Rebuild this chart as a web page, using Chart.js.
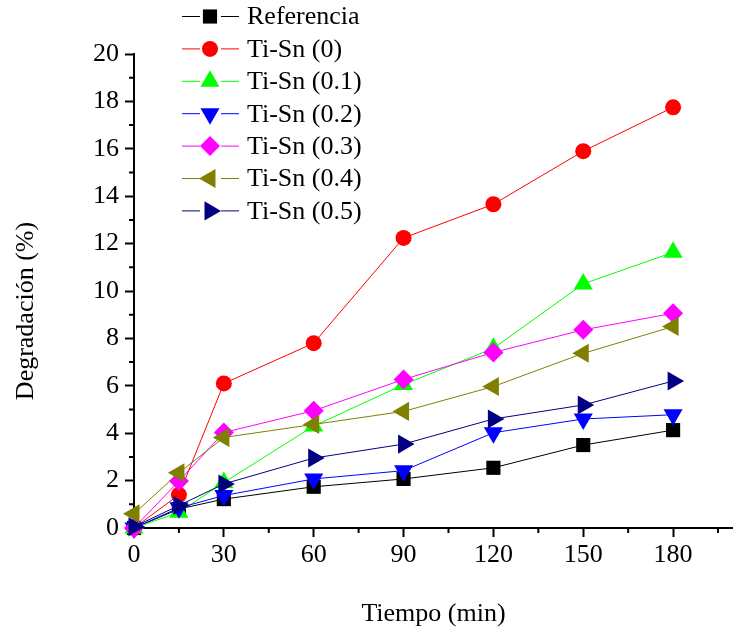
<!DOCTYPE html>
<html>
<head>
<meta charset="utf-8">
<script src="https://cdn.jsdelivr.net/npm/chart.js@4/dist/chart.umd.min.js"></script>
<style>
    body { margin: 0; background: #fff; font-family: "Liberation Serif", "Times New Roman", serif; }
    canvas { display: block; }
    .probe { position: absolute; left: -1000px; top: 0; font: 26px "Liberation Serif"; }
</style>
</head>
<body>
<canvas id="line-chart" width="733" height="638"></canvas>
<span class="probe">Degradación 0123456789</span>
<script>
// tiempo (min) y % de degradación
const tiempo = [0, 15, 30, 60, 90, 120, 150, 180];
const referencia = [0, 0.8, 1.22, 1.74, 2.07, 2.54, 3.5, 4.13];
const tiSn0 = [0, 1.4, 6.1, 7.8, 12.24, 13.66, 15.9, 17.75];
const tiSn01 = [0, 0.66, 1.92, 4.3, 6.05, 7.58, 10.3, 11.63];
const tiSn02 = [0, 0.85, 1.37, 2.07, 2.42, 4.02, 4.6, 4.78];
const tiSn03 = [0, 1.98, 4.03, 4.95, 6.27, 7.41, 8.36, 9.06];
const tiSn04 = [0.6, 2.33, 3.82, 4.37, 4.92, 5.97, 7.37, 8.5];
const tiSn05 = [0.05, 0.95, 1.86, 2.95, 3.54, 4.6, 5.19, 6.2];

const seriesNames = ["Referencia", "Ti-Sn (0)", "Ti-Sn (0.1)", "Ti-Sn (0.2)", "Ti-Sn (0.3)", "Ti-Sn (0.4)", "Ti-Sn (0.5)"];
const seriesValues = [referencia, tiSn0, tiSn01, tiSn02, tiSn03, tiSn04, tiSn05];

// ticks: cada 15 min (etiqueta cada 30) y cada 1 % (etiqueta cada 2)
const xTickValues = [0, 15, 30, 45, 60, 75, 90, 105, 120, 135, 150, 165, 180, 195];
const yTickValues = [0, 1, 2, 3, 4, 5, 6, 7, 8, 9, 10, 11, 12, 13, 14, 15, 16, 17, 18, 19, 20];

const colors = ["#000000", "#ff0000", "#00ff00", "#0000ff", "#ff00ff", "#808000", "#000080"];
const markers = [
    { style: "rect", radius: 10, rotation: 0 },
    { style: "circle", radius: 8, rotation: 0 },
    { style: "triangle", radius: 11, rotation: 0 },
    { style: "triangle", radius: 11, rotation: 180 },
    { style: "rectRot", radius: 10, rotation: 0 },
    { style: "triangle", radius: 11, rotation: 270 },
    { style: "triangle", radius: 11, rotation: 90 },
];

const FONT = '"Liberation Serif", "DejaVu Serif", serif';
const FSIZE = 26;

const datasets = seriesValues.map((vals, i) => ({
    label: seriesNames[i],
    data: tiempo.map((t, k) => ({ x: t, y: vals[k] })),
    borderColor: colors[i],
    backgroundColor: colors[i],
    borderWidth: 1,
    pointStyle: markers[i].style,
    pointRadius: markers[i].radius,
    pointRotation: markers[i].rotation,
    pointBackgroundColor: colors[i],
    pointBorderColor: colors[i],
    pointBorderWidth: 0,
    pointHoverRadius: markers[i].radius,
    order: seriesValues.length - 1 - i, // las últimas series quedan encima
    clip: false,
}));

// ticks menores más cortos + título del eje Y
const minorTicks = {
    id: "minorTicks",
    afterDraw(chart) {
        const ctx = chart.ctx;
        const xs = chart.scales.x;
        const ys = chart.scales.y;
        ctx.save();
        ctx.strokeStyle = "#000";
        ctx.lineWidth = 2;
        ctx.beginPath();
        xs.ticks.forEach((t) => {
            if (t.value % 30 !== 0) {
                const px = xs.getPixelForValue(t.value);
                ctx.moveTo(px, xs.top);
                ctx.lineTo(px, xs.top + 5);
            }
        });
        ys.ticks.forEach((t) => {
            if (t.value % 2 !== 0) {
                const py = ys.getPixelForValue(t.value);
                ctx.moveTo(ys.right, py);
                ctx.lineTo(ys.right - 5, py);
            }
        });
        ctx.stroke();

        ctx.translate(26, 311);
        ctx.rotate(-Math.PI / 2);
        ctx.fillStyle = "#000";
        ctx.font = FSIZE + "px " + FONT;
        ctx.textAlign = "center";
        ctx.textBaseline = "middle";
        ctx.fillText("Degradación (%)", 0, 0);
        ctx.restore();
    },
};

// leyenda tipo Origin: línea - marcador - línea
const originLegend = {
    id: "originLegend",
    afterDraw(chart) {
        const ctx = chart.ctx;
        ctx.save();
        ctx.font = FSIZE + "px " + FONT;
        ctx.textBaseline = "middle";
        ctx.textAlign = "left";
        seriesNames.forEach((name, i) => {
            const y = 16.5 + i * 32.4;
            ctx.strokeStyle = colors[i];
            ctx.lineWidth = 1;
            ctx.beginPath();
            ctx.moveTo(182, y);
            ctx.lineTo(200, y);
            ctx.moveTo(221, y);
            ctx.lineTo(239, y);
            ctx.stroke();
            ctx.fillStyle = colors[i];
            Chart.helpers.drawPoint(ctx, {
                pointStyle: markers[i].style,
                radius: markers[i].radius,
                rotation: markers[i].rotation,
                borderWidth: 0,
            }, 210, y);
            ctx.fillStyle = "#000";
            ctx.fillText(name, 247, y + 1);
        });
        ctx.restore();
    },
};

function drawChart() {
    new Chart(document.getElementById("line-chart"), {
        type: "line",
        data: { datasets: datasets },
        options: {
            responsive: false,
            animation: false,
            devicePixelRatio: 1,
            layout: { autoPadding: false, padding: { top: 54, left: 0, right: 0, bottom: 0 } },
            plugins: {
                legend: { display: false },
                tooltip: { enabled: false },
            },
            scales: {
                x: {
                    type: "linear",
                    min: 0,
                    max: 200,
                    afterBuildTicks: (axis) => {
                        axis.ticks = xTickValues.map((v) => ({ value: v }));
                    },
                    afterFit: (axis) => {
                        axis.height = 110;
                    },
                    grid: {
                        drawOnChartArea: false,
                        tickLength: 9,
                        tickWidth: 2,
                        tickColor: (c) => (c.tick && c.tick.value % 30 === 0 ? "#000" : "rgba(0,0,0,0)"),
                    },
                    border: { display: true, color: "#000", width: 2 },
                    ticks: {
                        autoSkip: false,
                        maxRotation: 0,
                        padding: 3,
                        color: "#000",
                        font: { family: FONT, size: FSIZE },
                        callback: (v) => (v % 30 === 0 ? v : ""),
                    },
                    title: {
                        display: true,
                        text: "Tiempo (min)",
                        color: "#000",
                        font: { family: FONT, size: FSIZE },
                        padding: { top: 0, bottom: 8 },
                    },
                },
                y: {
                    min: 0,
                    max: 20,
                    afterBuildTicks: (axis) => {
                        axis.ticks = yTickValues.map((v) => ({ value: v }));
                    },
                    afterFit: (axis) => {
                        axis.width = 134;
                    },
                    grid: {
                        drawOnChartArea: false,
                        tickLength: 9,
                        tickWidth: 2,
                        tickColor: (c) => (c.tick && c.tick.value % 2 === 0 ? "#000" : "rgba(0,0,0,0)"),
                    },
                    border: { display: true, color: "#000", width: 2 },
                    ticks: {
                        autoSkip: false,
                        padding: 6,
                        color: "#000",
                        font: { family: FONT, size: FSIZE },
                        callback: (v) => (v % 2 === 0 ? v : ""),
                    },
                },
            },
        },
        plugins: [minorTicks, originLegend],
    });
}

document.fonts.load(FSIZE + 'px "Liberation Serif"').then(drawChart, drawChart);
</script>
</body>
</html>
